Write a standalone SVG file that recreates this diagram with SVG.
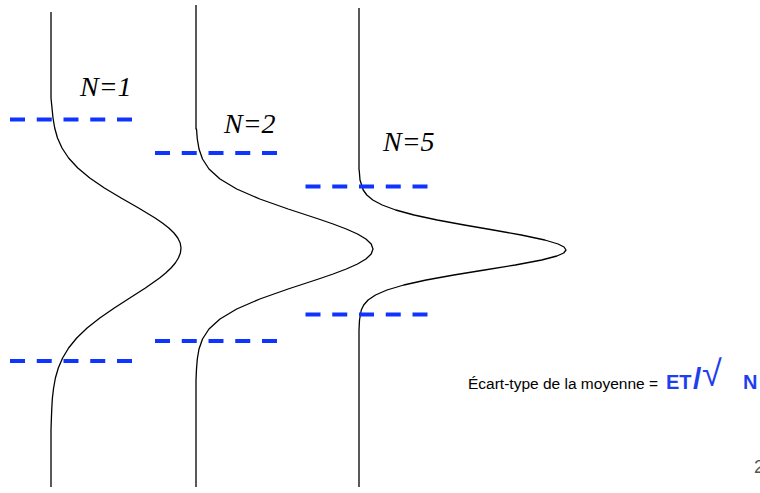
<svg xmlns="http://www.w3.org/2000/svg" width="760" height="493" viewBox="0 0 760 493">
<style>
.curve{fill:none;stroke:#000;stroke-width:1.3;stroke-linejoin:round}
.dash{stroke:#1034ff;stroke-width:4;stroke-dasharray:15 11.75;fill:none}
.body{font-family:"Liberation Sans",Arial,sans-serif;font-size:15.5px;fill:#000}
.blue{fill:#1f3fef;font-weight:bold}
</style>
<rect width="760" height="493" fill="#fff"/>
<g id="curve-n1">
<path class="curve" d="M51,12 L51,98 L52,108 L53,118 L54.7,128 L57.5,138 L62,148 L68.6,158 L77.8,168 L89.8,178 L104.4,188 L121.1,198 L138.6,208 L155.1,218 L162.4,223 L168.8,228 L174,233 L177.8,238 L180.2,243 L181,248 L180.4,253 L178.4,258 L175.3,263 L171,268 L165.7,273 L159.6,278 L145.4,288 L129.8,298 L114.3,308 L99.8,318 L87.1,328 L76.7,338 L68.6,348 L62.6,358 L58.3,368 L55.4,378 L53.6,388 L52.4,398 L51.8,408 L51.4,418 L51,430 L51,487"/>
<text x="80" y="96" font-family="Liberation Serif, Times New Roman, DejaVu Serif, serif" font-style="italic" font-size="28">N=1</text>
</g>
<g id="curve-n2">
<path class="curve" d="M196,5 L196,129 L196.5,129 L197.3,139 L199,149 L202.5,159 L209,169 L220,179 L236.7,189 L259.8,199 L288.1,209 L318.6,219 L333.1,224 L346.3,229 L357.5,234 L365.9,239 L371.2,244 L373,249 L371.2,254 L365.9,259 L357.5,264 L346.3,269 L333.1,274 L318.6,279 L288.1,289 L259.8,299 L236.7,309 L220,319 L209,329 L202.5,339 L199,349 L197.3,359 L196.5,369 L196,380 L196,487"/>
<text x="224" y="133" font-family="Liberation Serif, Times New Roman, DejaVu Serif, serif" font-style="italic" font-size="28">N=2</text>
</g>
<g id="curve-n3">
<path class="curve" d="M359,8 L359,170 L359.2,170 L360,180 L363.2,190 L366.8,195 L372.8,200 L382.2,205 L395.7,210 L414,215 L437.2,220 L464.3,225 L493.3,230 L521.3,235 L544.8,240 L558.1,244 L564,247 L566,250 L563.7,253 L556.9,256 L541.7,260 L515.3,265 L484.5,270 L453.8,275 L426.2,280 L403.8,285 L387,290 L375.5,295 L368.1,300 L363.7,305 L361.3,310 L359.5,320 L359,330 L359,487"/>
<text x="383" y="151" font-family="Liberation Serif, Times New Roman, DejaVu Serif, serif" font-style="italic" font-size="28">N=5</text>
</g>
<g id="sigma-lines">
<line class="dash" x1="10" y1="119.5" x2="132" y2="119.5"/>
<line class="dash" x1="10" y1="361" x2="132" y2="361"/>
<line class="dash" x1="155" y1="153" x2="277" y2="153"/>
<line class="dash" x1="155" y1="341" x2="277" y2="341"/>
<line class="dash" x1="305.5" y1="186.5" x2="427.5" y2="186.5"/>
<line class="dash" x1="305.5" y1="314.5" x2="427.5" y2="314.5"/>
</g>
<g id="formula">
<text class="body" x="468" y="389">Écart-type de la moyenne = <tspan class="blue" x="666" font-size="20">ET</tspan><tspan x="693" font-size="30" fill="#1f3fef" font-weight="bold">/</tspan><tspan x="702" y="386" font-size="36" fill="#1f3fef">√</tspan><tspan class="blue" x="743" y="389" font-size="20">N</tspan></text>
</g>
<text x="754" y="473" font-family="Liberation Sans, Arial, sans-serif" font-size="18" fill="#555">2</text>
</svg>
